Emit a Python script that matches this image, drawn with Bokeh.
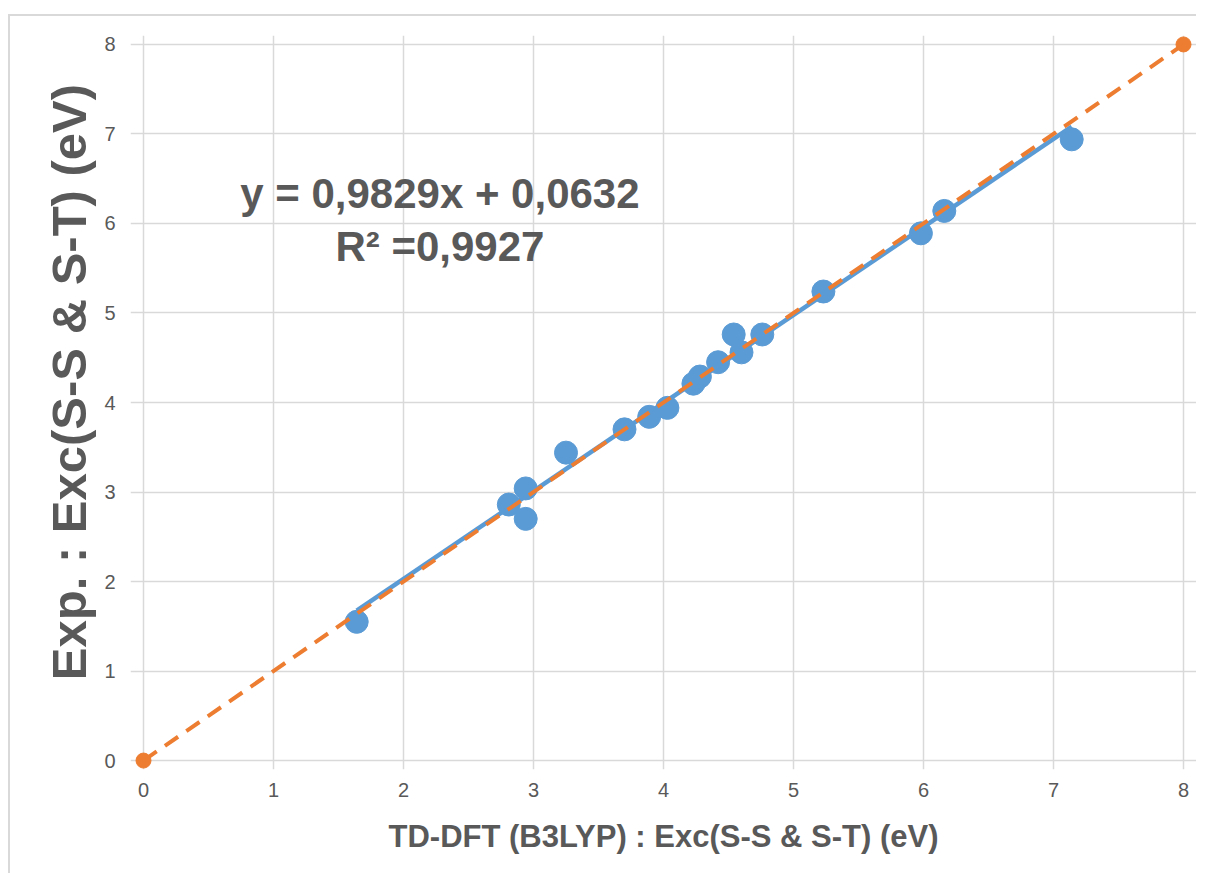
from bokeh.plotting import figure
from bokeh.models import Range1d, Label, FixedTicker
from bokeh.embed import file_html
from bokeh.resources import INLINE

# ---- data ----
x_dft = [1.64, 2.81, 2.94, 2.94, 3.25, 3.70, 3.89, 4.03, 4.23, 4.28,
         4.42, 4.60, 4.54, 4.76, 5.23, 5.98, 6.16, 7.14]
y_exp = [1.55, 2.86, 3.04, 2.70, 3.44, 3.70, 3.84, 3.94, 4.21, 4.29,
         4.45, 4.56, 4.76, 4.76, 5.24, 5.89, 6.14, 6.94]
fit_slope = 0.9829
fit_intercept = 0.0632
eq_text = "y = 0,9829x + 0,0632"
r2_text = "R² =0,9927"
ref_x = [0, 8]
ref_y = [0, 8]
ticks = [0, 1, 2, 3, 4, 5, 6, 7, 8]
x_title = "TD-DFT (B3LYP) : Exc(S-S & S-T) (eV)"
y_title = "Exp. : Exc(S-S & S-T) (eV)"

BLUE = "#5B9BD5"
ORANGE = "#ED7D31"
GRID = "#d9d9d9"
TXT = "#595959"

p = figure(frame_width=1066, frame_height=734,
           x_range=Range1d(-0.1, 8.1), y_range=Range1d(-0.1, 8.1),
           output_backend="svg", toolbar_location=None,
           min_border_left=120, min_border_right=0,
           min_border_top=19, min_border_bottom=104,
           background_fill_color="white", border_fill_color="white")
p.outline_line_color = None
p.styles = {"border-top": "2px solid #d9d9d9", "border-left": "2px solid #d9d9d9",
            "margin-top": "14px", "margin-left": "8px"}

for ax in (p.xaxis[0], p.yaxis[0]):
    ax.ticker = FixedTicker(ticks=ticks)
    ax.axis_line_color = None
    ax.major_tick_line_color = None
    ax.minor_tick_line_color = None
    ax.major_label_text_font = "Liberation Sans"
    ax.major_label_text_font_size = "20px"
    ax.major_label_text_color = TXT
    ax.axis_label_text_color = TXT
    ax.axis_label_text_font_style = "bold"

p.xaxis.axis_label = x_title
p.xaxis.axis_label_text_font = "Liberation Sans"
p.xaxis.axis_label_text_font_size = "31px"
p.xaxis.major_label_standoff = 7
p.xaxis.axis_label_standoff = 19

# leading no-break spaces move the rotated title up to where it sits in the reference
p.yaxis.axis_label = "\u00a0\u00a0\u00a0" + y_title
p.yaxis.axis_label_text_font = "Liberation Sans"
p.yaxis.axis_label_text_font_size = "49px"
p.yaxis.major_label_standoff = 9
p.yaxis.axis_label_standoff = 5

for g in (p.xgrid[0], p.ygrid[0]):
    g.ticker = FixedTicker(ticks=ticks)
    g.grid_line_color = GRID
    g.grid_line_width = 1.5
    g.bounds = (0, 8)

# blue data points
p.scatter(x_dft, y_exp, size=23, color=BLUE, line_color=BLUE)

# blue linear trendline
fx = [min(x_dft), max(x_dft)]
fy = [fit_slope * v + fit_intercept for v in fx]
p.line(fx, fy, line_color=BLUE, line_width=4.5)

# orange y = x reference
p.line(ref_x, ref_y, line_color=ORANGE, line_width=4, line_dash="16 10")
p.scatter(ref_x, ref_y, size=15, color=ORANGE, line_color=ORANGE)

for txt, yy in ((eq_text, 6.335), (r2_text, 5.74)):
    p.add_layout(Label(x=2.28, y=yy, text=txt, text_align="center",
                       text_baseline="alphabetic",
                       text_font="Liberation Sans", text_font_style="bold",
                       text_font_size="42px", text_color=TXT))

open("out.html", "w").write(file_html(p, INLINE))
